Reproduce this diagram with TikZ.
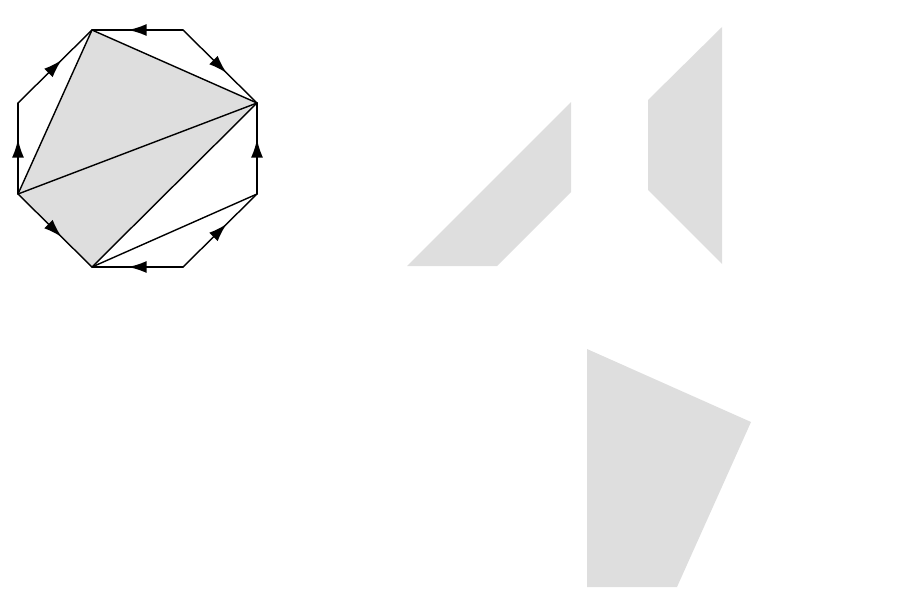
\documentclass[tikz,border=0pt]{standalone}
\usetikzlibrary{arrows.meta,decorations.markings}
\tikzset{
  midarrow/.style={decoration={markings,
      mark=at position 0.5 with {\arrow[xshift=6.5pt]{Latex[length=13pt,width=8.5pt]}}},
    postaction={decorate}},
  piece/.style={fill=black!13},
}

\begin{document}
\begin{tikzpicture}[x=0.025cm, y=-0.025cm, line width=1pt, line cap=round, line join=round]
		%%%%% START %%%%%
		\useasboundingbox (0, 0) rectangle (899, 604);
		
		\coordinate (A) at (92, 30);
		\coordinate (B) at (183, 30);
		\coordinate (C) at (257, 103);
		\coordinate (D) at (257, 194);
		\coordinate (E) at (183, 267);
		\coordinate (F) at (92, 267);
		\coordinate (G) at (18, 194);
		\coordinate (H) at (18, 103);
		
		\fill[piece] (A) -- (C) -- (F) -- (G) -- cycle;
		
		\draw (A) -- (G);
		\draw (A) -- (C);
		\draw (G) -- (C);
		\draw (C) -- (F);
		\draw (F) -- (D);
		
		\draw[midarrow] (B) -- (A);
		\draw[midarrow] (B) -- (C);
		\draw[midarrow] (D) -- (C);
		\draw[midarrow] (E) -- (D);
		\draw[midarrow] (E) -- (F);
		\draw[midarrow] (G) -- (F);
		\draw[midarrow] (G) -- (H);
		\draw[midarrow] (H) -- (A);
		
		\fill[piece] (407, 266) -- (497, 266) -- (571, 192) -- (571, 102) -- cycle;
		\fill[piece] (648, 100) -- (722, 27) -- (722, 264) -- (648, 190) -- cycle;
		\fill[piece] (587, 349) -- (751, 422) -- (677, 587) -- (587, 587) -- cycle;
		
		%%%%% END %%%%%
	\end{tikzpicture}
\end{document}
